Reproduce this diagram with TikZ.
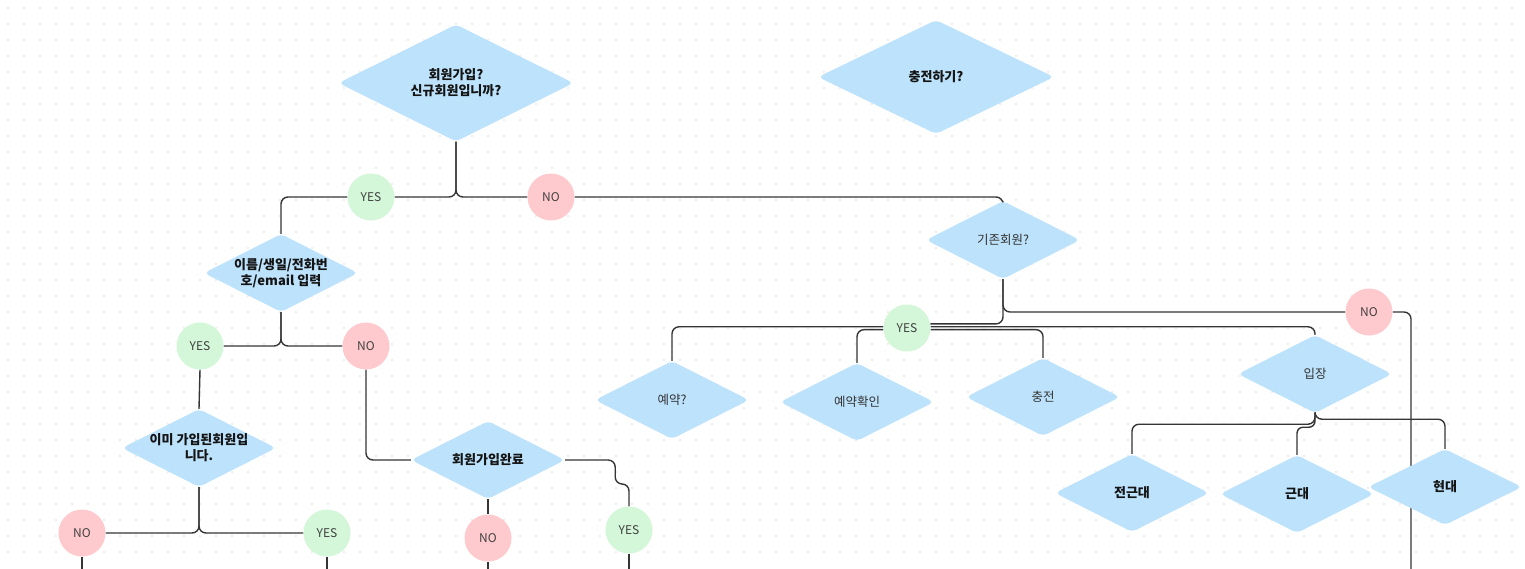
\documentclass[tikz,border=0pt]{standalone}
\usepackage{fontspec}
\setmainfont{Noto Sans CJK KR}
\usetikzlibrary{shapes.geometric,calc}
\definecolor{dia}{HTML}{BDE2FB}
\definecolor{yesc}{HTML}{D3F7D8}
\definecolor{noc}{HTML}{FFCACE}
\definecolor{ln}{HTML}{353535}
\definecolor{dotc}{HTML}{DDDDDD}
\pgfdeclarelayer{bg}\pgfdeclarelayer{edges}\pgfsetlayers{bg,edges,main}
\begin{document}
\begin{tikzpicture}[x=1pt,y=-1pt,
  dnode/.style={diamond, fill=dia, rounded corners=5pt, inner sep=-8pt, aspect=2, align=center,
    minimum width=154pt, minimum height=78pt, font=\fontsize{12.5}{15.5}\selectfont, text=black!80},
  bnode/.style={dnode, font=\fontsize{13}{16}\selectfont\bfseries, text=black!92},
  yesnode/.style={circle, fill=yesc, minimum size=47pt, inner sep=0pt, font=\fontsize{12}{14}\selectfont, text=black!75},
  nonode/.style={yesnode, fill=noc},
  conn/.style={draw=ln, line width=1.4pt, rounded corners=7pt}]
\useasboundingbox (0,0) rectangle (1525,568);
\begin{pgfonlayer}{bg}
  \fill[white] (0,0) rectangle (1525,568);
  \foreach \x in {8,24,...,1520} \foreach \y in {8,24,...,564} \fill[dotc] (\x,\y) circle (0.9pt);
\end{pgfonlayer}
% diamonds
\node[bnode, minimum width=235pt, minimum height=117pt] (d1) at (456,83) {회원가입?\\신규회원입니까?};
\node[bnode, minimum width=236pt, minimum height=114pt] (d2) at (936,77) {충전하기?};
\node[bnode] (d3) at (281,273) {이름/생일/전화번\\호/email 입력};
\node[bnode] (d4) at (199,448) {이미 가입된회원입\\니다.};
\node[bnode] (d5) at (488,460) {회원가입완료};
\node[dnode] (d6) at (1003,240) {기존회원?};
\node[dnode] (d7) at (672,400) {예약?};
\node[dnode] (d8) at (857,402) {예약확인};
\node[dnode] (d9) at (1043,397) {충전};
\node[dnode] (d10) at (1315,374) {입장};
\node[bnode] (d11) at (1132,493) {전근대};
\node[bnode] (d12) at (1297,494) {근대};
\node[bnode, minimum height=76pt] (d13) at (1445,487) {현대};
% yes / no
\node[yesnode] (yes1) at (371,197) {YES};
\node[nonode] (no1) at (551,197) {NO};
\node[yesnode] (yes2) at (200,346) {YES};
\node[nonode] (no2) at (366,346) {NO};
\node[nonode] (no3) at (82,533) {NO};
\node[yesnode] (yes3) at (327,533) {YES};
\node[nonode] (no4) at (488,538) {NO};
\node[yesnode] (yes4) at (629,530) {YES};
\node[yesnode] (yes5) at (907,328) {YES};
\node[nonode] (no5) at (1369,312) {NO};
% free ends
\coordinate (e1) at (82,570);
\coordinate (e2) at (327,570);
\coordinate (e3) at (488,570);
\coordinate (e4) at (629,570);
\coordinate (e5) at (1411,570);
\begin{pgfonlayer}{edges}
  \draw[conn] (d1.south) |- (yes1.east);
  \draw[conn] (d1.south) |- (no1.west);
  \draw[conn] (yes1.west) -| (d3.north);
  \draw[conn] (no1.east) -| (d6.north);
  \draw[conn] (d3.south) |- (yes2.east);
  \draw[conn] (d3.south) |- (no2.west);
  \draw[conn] (yes2.south) -- (d4.north);
  \draw[conn] (no2.south) |- (d5.west);
  \draw[conn] (d4.south) |- (no3.east);
  \draw[conn] (d4.south) |- (yes3.west);
  \draw[conn] (no3.south) -- (e1);
  \draw[conn] (yes3.south) -- (e2);
  \draw[conn] (d5.south) -- (no4.north);
  \draw[conn] (no4.south) -- (e3);
  \draw[conn] (d5.east) -- ++(50,0) -- ++(0,24) -| (yes4.north);
  \draw[conn] (yes4.south) -- (e4);
  \draw[conn] (d6.south) |- (yes5.10);
  \draw[conn] (d6.south) |- (no5.west);
  \draw[conn] (no5.east) -| (e5);
  \draw[conn] (yes5.177) -| (d7.north);
  \draw[conn] (yes5.184) -| (d8.north);
  \draw[conn] (yes5.-4) -| (d9.north);
  \draw[conn] (yes5.3) -| (d10.north);
  \draw[conn] (d10.south) -- ++(0,6) -| (d13.north);
  \draw[conn] (d10.south) -- ++(0,11) -| (d11.north);
  \draw[conn, rounded corners=6pt] (d10.south) -- ++(0,14) -| (d12.north);
\end{pgfonlayer}
\end{tikzpicture}
\end{document}
